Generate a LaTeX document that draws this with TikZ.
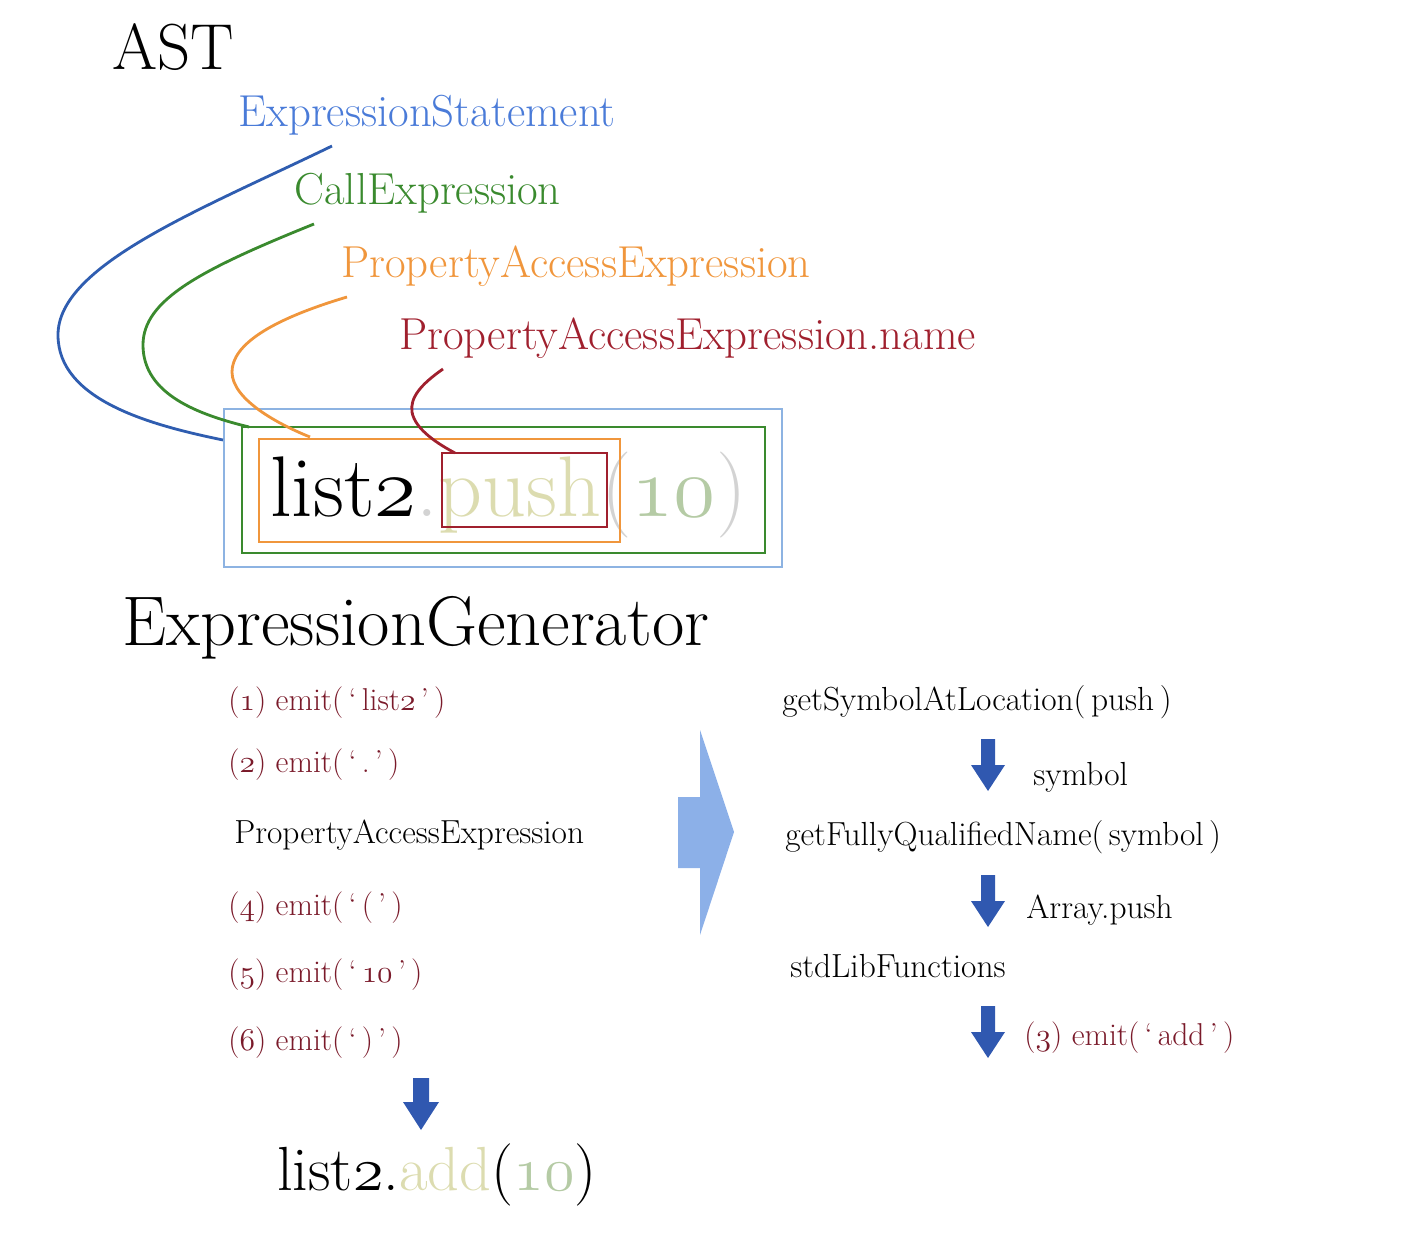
\RequirePackage{fix-cm}
\documentclass[tikz,border=0pt]{standalone}
\usepackage{fontspec}
\usetikzlibrary{positioning}

\definecolor{stmtblue}{RGB}{74,123,216}
\definecolor{curveblue}{RGB}{47,93,176}
\definecolor{boxblue}{RGB}{141,179,226}
\definecolor{callgreen}{RGB}{58,138,46}
\definecolor{proporange}{RGB}{240,150,60}
\definecolor{namered}{RGB}{160,32,46}
\definecolor{emitred}{RGB}{122,26,42}
\definecolor{arrowblue}{RGB}{48,88,176}
\definecolor{bigarrow}{RGB}{140,176,232}
\definecolor{khaki}{RGB}{220,220,176}
\definecolor{sage}{RGB}{181,203,165}
\definecolor{dotgrey}{RGB}{211,211,211}

\newcommand\fsize[1]{\fontsize{#1}{#1}\selectfont}
\newcommand\onum[1]{{\usefont{OML}{cmm}{m}{it}#1}}

\tikzset{
  lbl/.style={anchor=base west, inner sep=0pt},
  asttext/.style={lbl, font=\fsize{25.5}},
  steptext/.style={lbl, font=\fsize{19}},
  emittext/.style={lbl, font=\fsize{18}, text=emitred},
  link/.style={line width=1.6pt},
  frame/.style={line width=1.2pt},
}

\begin{document}
\begin{tikzpicture}[x=0.02cm,y=-0.02cm]
    \useasboundingbox (0,0) rectangle (1410,1246);

    % AST part
    \node[lbl, font=\fsize{37}] (ast) at (112,70) {AST};
    \node[asttext, text=stmtblue] (stmt) at (238,127) {ExpressionStatement};
    \node[asttext, text=callgreen] (call) at (294,205) {CallExpression};
    \node[asttext, text=proporange] (prop) at (341,278) {PropertyAccessExpression};
    \node[asttext, text=namered] (name) at (399,350) {PropertyAccessExpression.name};

    \node[lbl, font=\fsize{49}] (code) at (270,517)
        {list\onum{2}\textcolor{dotgrey}{.}\textcolor{khaki}{push}\textcolor{dotgrey}{(}\textcolor{sage}{\onum{10}}\textcolor{dotgrey}{)}};

    \draw[frame, boxblue] (224,409) rectangle (782,567);
    \draw[frame, callgreen] (242,427) rectangle (765,553);
    \draw[frame, proporange] (259,439) rectangle (620,542);
    \draw[frame, namered] (442,453) rectangle (607,527);

    \coordinate (stmtstart) at (332,146);
    \coordinate (callstart) at (314,224);
    \coordinate (propstart) at (347,297);
    \coordinate (namestart) at (443,369);
    \coordinate (stmtend) at (223,440);
    \coordinate (callend) at (249,427);
    \coordinate (propend) at (310,437);
    \coordinate (nameend) at (455,453);

    \draw[link, curveblue] (stmtstart) .. controls (200,210) and (58,265) .. (58,335)
        .. controls (58,400) and (150,425) .. (stmtend);
    \draw[link, callgreen] (callstart) .. controls (200,270) and (143,300) .. (143,345)
        .. controls (143,395) and (200,415) .. (callend);
    \draw[link, proporange] (propstart) .. controls (270,320) and (232,345) .. (232,372)
        .. controls (232,400) and (280,425) .. (propend);
    \draw[link, namered] (namestart) .. controls (420,385) and (410,398) .. (412,412)
        .. controls (415,430) and (440,445) .. (nameend);

    % generator part
    \node[lbl, font=\fsize{40}] (gen) at (122,645) {ExpressionGenerator};

    \node[emittext] (e1) at (228,710) {(\onum{1}) emit(\,`\,list\onum{2}\,'\,)};
    \node[emittext] (e2) at (228,772) {(\onum{2}) emit(\,`\,.\,'\,)};
    \node[steptext] (pae) at (234,843) {PropertyAccessExpression};
    \node[emittext] (e4) at (228,915) {(\onum{4}) emit(\,`\,(\,'\,)};
    \node[emittext] (e5) at (228,982) {(\onum{5}) emit(\,`\,\onum{10}\,'\,)};
    \node[emittext] (e6) at (228,1050) {(\onum{6}) emit(\,`\,)\,'\,)};

    \fill[bigarrow] (678,797) -- (700,797) -- (700,730) -- (734,832) -- (700,935) -- (700,868) -- (678,868) -- cycle;

    \node[steptext] (getsym) at (782,710) {getSymbolAtLocation(\,push\,)};
    \node[steptext] (sym) at (1033,785) {symbol};
    \node[steptext] (getfqn) at (785,845) {getFullyQualifiedName(\,symbol\,)};
    \node[steptext] (arr) at (1026,918) {Array.push};
    \node[steptext] (stdlib) at (790,977) {stdLibFunctions};
    \node[emittext] (e3) at (1024,1045) {(\onum{3}) emit(\,`\,add\,'\,)};

    \foreach \y in {739,875,1006} {
        \fill[arrowblue] (981,\y) -- (995,\y) -- (995,\y+26) -- (1005,\y+26) -- (988,\y+52)
            -- (971,\y+26) -- (981,\y+26) -- cycle;
    }
    \fill[arrowblue] (413,1078) -- (429,1078) -- (429,1102) -- (439,1102) -- (421,1130)
        -- (403,1102) -- (413,1102) -- cycle;

    \node[lbl, font=\fsize{35.5}] (result) at (277,1190)
        {list\onum{2}.\textcolor{khaki}{add}(\textcolor{sage}{\onum{10}})};
\end{tikzpicture}
\end{document}
